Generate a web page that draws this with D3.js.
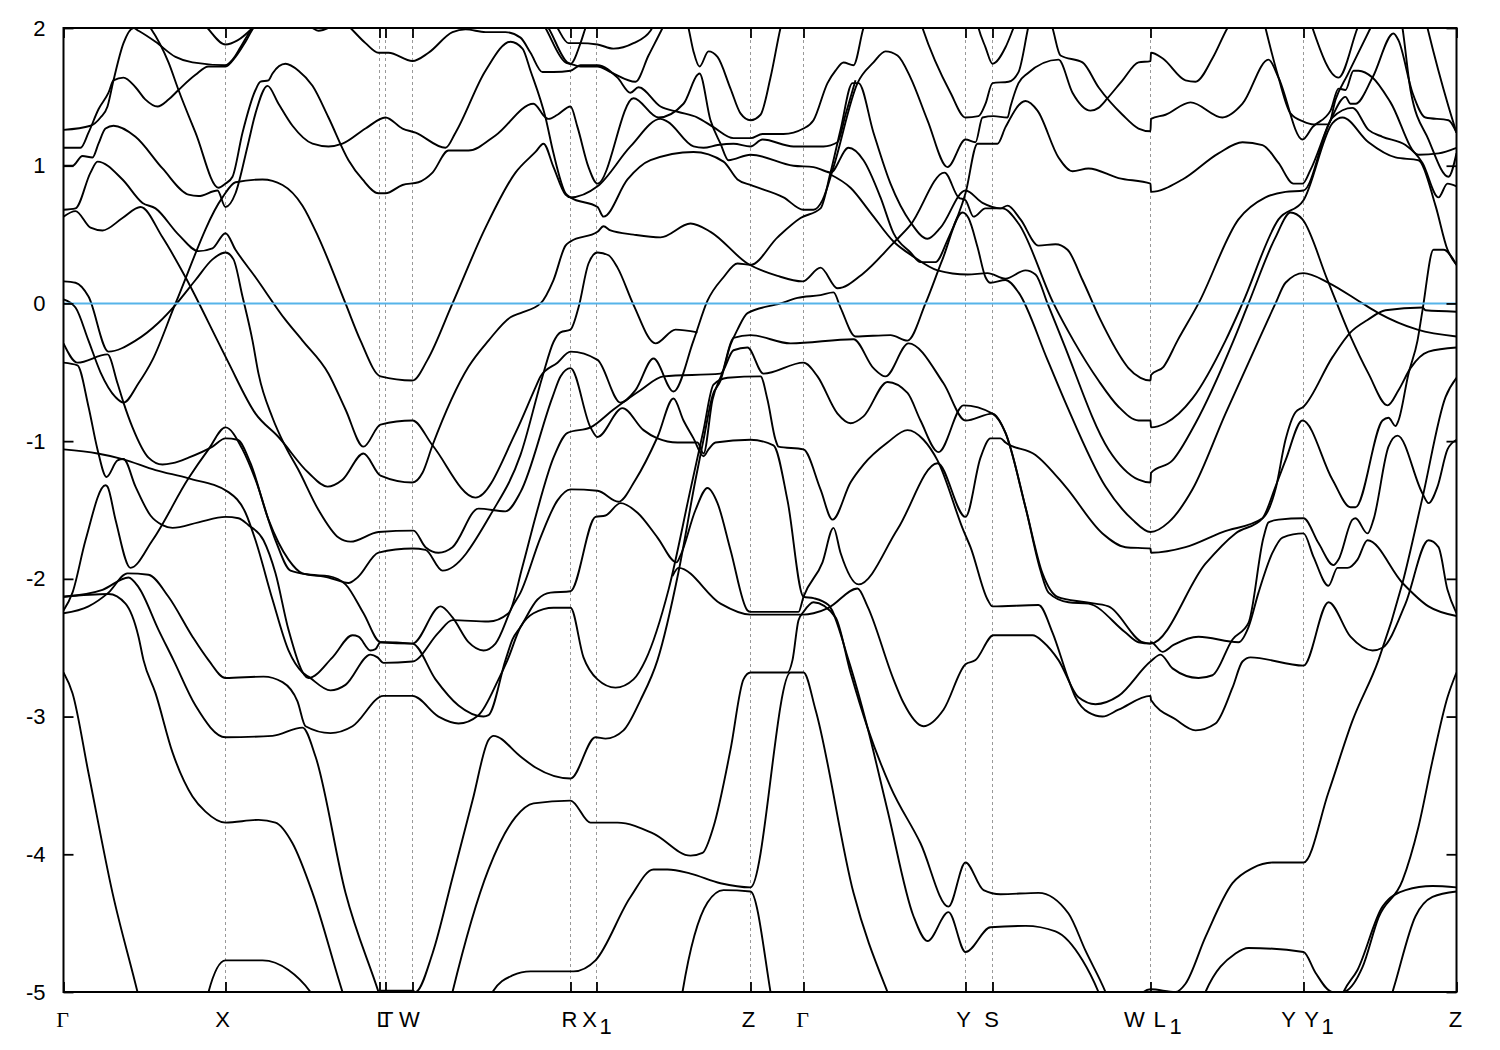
<!DOCTYPE html>
<html><head><meta charset="utf-8"><title>Band structure</title>
<script src="https://cdn.jsdelivr.net/npm/d3@7"></script>
<style>html,body{margin:0;padding:0;background:#fff}svg{display:block}
text{font-family:"Liberation Sans",Arial,sans-serif;font-size:22px;fill:#000}</style></head><body>
<script>
// high-symmetry points along the k-path (path coordinate)
const kTicks=[63,225,379,385,412,570,596,750,803,965,992,1150,1303,1456];
const kLabels=[["Γ",62],["X",222],["LT",381],["W",409],["R",569],["X",589,"1"],["Z",748],["Γ",802],["Y",963],["S",991],["W",1134],["L",1159,"1"],["Y",1288],["Y",1311,"1"],["Z",1455]];
const eTicks=[-5,-4,-3,-2,-1,0,1,2];
const kRange=[63,1456], eRange=[-5,2];
const band01=[[63,1.26],[90,1.29],[100,1.35],[107,1.43],[113,1.62],[123,1.89],[133,2],[138,1.98],[155,1.9],[175,1.79],[192,1.75],[225,1.73],[232,1.77],[240,1.86],[250,1.98],[258,2.04]];
const band02=[[63,1.13],[80,1.13],[88,1.24],[98,1.41],[108,1.53],[113,1.62],[123,1.64],[135,1.57],[145,1.48],[157,1.43],[168,1.48],[178,1.55],[195,1.66],[208,1.72],[225,1.72],[235,1.79],[245,1.9],[253,2],[262,2.06]];
const band03=[[140,2.09],[150,2],[168,1.75],[178,1.55],[195,1.24],[218,.84],[225,.87],[232,.92],[242,1.24],[255,1.55],[260,1.61],[268,1.62],[272,1.67],[285,1.74],[298,1.69],[312,1.58],[328,1.35],[348,1.04],[362,.9],[378,.8],[385,.8],[402,.86],[418,.88],[432,.95],[448,1.11],[468,1.11],[495,1.22],[533,1.45],[545,1.35],[548,1.34],[557,1.37],[570,1.43],[577,1.28],[588,.99],[597,.87],[633,1.49],[658,1.35],[683,1.45],[697,1.66],[699,1.67],[710,1.33],[720,1.16],[728,1.04],[750,1.08],[793,1],[813,.99],[825,.96],[830,.95],[848,1.13],[863,1.04],[880,.77],[893,.51],[910,.37],[920,.3],[935,.3],[947,.46],[965,.8],[977,1.16],[985,1.16],[997,1.16],[1005,1.28],[1025,1.47],[1037,1.4],[1058,1.06],[1072,.96],[1088,.98],[1118,.91],[1150,.87],[1150.5,.81],[1182,.9],[1218,1.09],[1242,1.17],[1262,1.15],[1278,1.02],[1293,.87],[1302,.87],[1310,.97],[1330,1.33],[1345,1.5],[1350,1.45],[1355,1.45],[1372,1.64],[1393,1.96],[1398,1.91],[1412,1.53],[1425,1.35],[1448,1.33],[1456,1.24]];
const band04=[[63,1],[72,1],[82,1.07],[92,1.06],[98,1.16],[105,1.27],[113,1.29],[135,1.21],[162,.98],[188,.79],[198,.78],[217,.82],[225,.7],[235,.8],[247,1.14],[255,1.38],[267,1.58],[278,1.45],[292,1.29],[312,1.16],[328,1.14],[342,1.16],[365,1.27],[385,1.35],[402,1.27],[415,1.24],[445,1.13],[455,1.24],[485,1.69],[510,1.9],[522,1.85],[530,1.69],[545,1.35],[553,1.09],[565,.8],[570,.77],[597,.7],[603,.63],[627,.9],[650,1.04],[693,1.1],[723,1.03],[737,.9],[750,.86],[783,.77],[803,.68],[813,.68],[822,.75],[833,.99],[857,1.6],[873,1.75],[885,1.83],[897,1.8],[910,1.64],[927,1.33],[947,.99],[965,1.19],[975,1.17],[982,1.35],[993,1.36],[1007,1.35],[1010,1.43],[1018,1.6],[1027,1.67],[1058,1.77],[1072,1.53],[1090,1.4],[1098,1.42],[1107,1.49],[1122,1.62],[1138,1.75],[1150,1.76],[1150.5,1.82],[1162,1.78],[1185,1.62],[1195,1.61],[1212,1.78],[1227,2],[1235,2.09]];
const band05=[[340,2.07],[350,2],[365,1.89],[378,1.82],[388,1.82],[412,1.76],[428,1.82],[452,1.97],[465,1.99],[485,1.97],[505,1.97],[520,1.93],[530,1.82],[542,1.68],[553,1.68],[570,1.69],[580,1.73],[597,1.73],[617,1.64],[630,1.53],[638,1.57],[660,1.43],[678,1.39],[697,1.35],[713,1.28],[733,1.2],[750,1.2],[762,1.23],[783,1.23],[803,1.27],[813,1.33],[827,1.6],[835,1.69],[843,1.75],[853,1.73],[863,2],[870,2.13]];
const band06=[[200,2.06],[207,2],[225,1.88],[237,1.91],[252,2],[260,2.06]];
const band07=[[305,2.03],[312,2],[318,1.98],[328,2],[335,2.03]];
const band08=[[540,2.09],[548,2],[567,1.75],[570,1.74],[580,1.89],[585,2],[590,2.09]];
const band09=[[538,2.09],[545,2],[565,1.75],[570,1.74],[580,1.72],[597,1.72],[610,1.68],[635,1.61],[648,1.8],[662,2],[668,2.09]];
const band10=[[550,2.09],[557,2],[568,1.89],[578,1.89],[597,1.88],[613,1.85],[633,1.89],[650,1.98],[655,2.06]];
const band11=[[685,2.09],[688,2],[693,1.83],[699,1.72],[708,1.83],[717,1.79],[730,1.56],[740,1.38],[750,1.33],[760,1.37],[770,1.64],[780,2],[783,2.09]];
const band12=[[1048,2.09],[1052,2],[1060,1.8],[1082,1.75],[1098,1.57],[1122,1.37],[1138,1.27],[1150,1.25],[1150.5,1.34],[1165,1.37],[1190,1.46],[1222,1.35],[1242,1.45],[1268,1.77],[1278,1.64],[1302,1.19],[1312,1.28],[1330,1.4],[1338,1.56],[1345,1.55],[1353,1.69],[1358,1.69],[1372,1.64],[1390,1.46],[1418,1.08],[1438,1.09],[1456,1.13]];
const band13=[[918,2.09],[922,2],[950,1.53],[965,1.35],[978,1.36],[985,1.45],[992,1.6],[1008,1.61],[1018,1.68],[1027,1.98],[1030,2.09]];
const band14=[[975,2.09],[978,2],[985,1.86],[992,1.74],[1005,1.86],[1013,2],[1018,2.09]];
const band15=[[1262,2.09],[1265,2],[1278,1.64],[1290,1.38],[1303,1.32],[1313,1.3],[1328,1.3],[1335,1.48],[1347,1.66],[1370,2],[1376,2.09]];
const band16=[[1308,2.09],[1312,2],[1338,1.64],[1357,2],[1362,2.09]];
const band17=[[1400,2.09],[1402,2],[1410,1.55],[1428,1.19],[1448,.92],[1456,1.09]];
const band18=[[1424,2.09],[1427,2],[1448,1.43],[1456,1.24]];
const band19=[[63,.68],[75,.69],[90,.95],[97,1.03],[122,.9],[142,.73],[155,.69],[178,.5],[198,.38],[212,.4],[225,.51],[235,.39],[255,.19],[285,-.12],[302,-.27],[328,-.51],[345,-.77],[363,-1.04],[380,-.88],[412,-.85],[432,-1.03],[475,-1.41],[515,-.94],[535,-.61],[540,-.53],[557,-.43],[570,-.35],[597,-.41],[620,-.72],[635,-.63],[653,-.4],[673,-.64],[693,-.27],[707,.02],[723,.19],[737,.29],[750,.28],[777,.48],[800,.62],[820,.69],[830,.95],[840,1.26],[852,1.6],[858,1.6],[873,1.24],[890,.87],[910,.59],[927,.47],[940,.55],[965,.82],[982,.73],[1000,.69],[1007,.71],[1020,.61],[1038,.42],[1055,.43],[1067,.39],[1082,.17],[1100,-.12],[1122,-.41],[1128,-.47],[1140,-.54],[1150,-.56],[1150.5,-.52],[1163,-.46],[1177,-.27],[1198,0],[1238,.61],[1265,.77],[1285,.81],[1303,.82],[1332,1.35],[1352,1.42],[1368,1.26],[1382,1.21],[1405,1.15],[1422,1.02],[1438,.77],[1447,.87],[1456,.85]];
const band20=[[63,.63],[75,.67],[90,.55],[102,.53],[122,.62],[140,.7],[162,.48],[185,.19],[217,-.27],[228,-.43],[255,-.8],[278,-.97],[308,-1.23],[327,-1.33],[342,-1.28],[363,-1.09],[380,-1.25],[412,-1.3],[422,-1.23],[432,-1.03],[468,-.46],[488,-.27],[510,-.1],[520,-.07],[540,0],[553,.17],[565,.42],[570,.45],[597,.52],[603,.56],[610,.53],[633,.5],[660,.48],[690,.58],[710,.52],[747,.29],[777,.2],[802,.16],[820,.26],[837,.11],[863,.22],[893,.44],[910,.57],[944,.95],[958,.77],[965,.75],[973,.63],[985,.69],[1002,.69],[1018,.58],[1053,0],[1073,-.27],[1098,-.56],[1118,-.75],[1138,-.85],[1150,-.85],[1150.5,-.9],[1165,-.87],[1192,-.69],[1225,-.27],[1242,0],[1278,.61],[1303,.75],[1332,1.31],[1342,1.35],[1368,1.17],[1395,1.06],[1418,1.04],[1435,.71],[1447,.39],[1456,.28]];
const band21=[[63,.03],[75,-.03],[88,-.27],[100,-.5],[115,-.68],[123,-.72],[138,-.58],[152,-.41],[175,0],[222,.77],[235,.88],[262,.9],[282,.86],[302,.71],[318,.48],[345,0],[360,-.27],[380,-.53],[412,-.56],[427,-.41],[452,0],[485,.55],[515,.95],[535,1.1],[543,1.16],[553,.99],[565,.79],[570,.77],[597,.85],[630,1.14],[660,1.34],[667,1.32],[693,1.14],[703,1.13],[717,1.15],[733,1.16],[750,1.14],[762,1.19],[793,1.14],[823,1.14],[837,1.17],[845,1.37],[855,1.62]];
const band22=[[829,.94],[850,.84],[870,.66],[893,.45],[913,.34],[937,.24],[967,.21],[987,.22],[1005,.18],[1025,.24],[1035,.21],[1047,0],[1062,-.27],[1108,-1.06],[1138,-1.28],[1150,-1.3],[1150.5,-1.23],[1172,-1.14],[1195,-.87],[1233,-.27],[1248,0],[1275,.48],[1290,.66],[1302,.61],[1327,.17],[1350,-.24],[1368,-.51],[1387,-.74],[1398,-.63],[1410,-.47],[1428,-.35],[1456,-.32]];
const band23=[[63,.16],[75,.15],[88,.05],[108,-.35],[135,-.27],[158,-.14],[175,-.01],[195,.17],[212,.32],[225,.37],[233,.32],[242,.05],[252,-.27],[258,-.51],[272,-.83],[285,-1.04],[298,-1.21],[318,-1.5],[338,-1.7],[350,-1.73],[378,-1.66],[413,-1.65],[425,-1.77],[438,-1.81],[452,-1.77],[478,-1.49],[505,-1.51],[520,-1.37],[552,-.68],[560,-.53],[570,-.47],[590,-.9],[597,-.97],[622,-.76],[643,-.92],[657,-.98],[677,-1.01],[697,-1.01],[703,-1.09],[712,-.7],[722,-.5],[733,-.25],[750,-.23],[790,-.29],[853,-.26],[873,-.47],[885,-.53],[908,-.29],[943,-.58],[965,-.85],[992,-.8],[1005,-.94],[1025,-1.48],[1040,-1.94],[1048,-2.1],[1068,-2.17],[1088,-2.18],[1125,-2.39],[1138,-2.46],[1150,-2.47],[1205,-1.89],[1235,-1.67],[1262,-1.56],[1275,-1.33],[1285,-1.14],[1302,-.85],[1332,-1.28],[1350,-1.48],[1355,-1.48],[1382,-.85],[1388,-.83],[1395,-.89],[1398,-.85],[1408,-.51],[1417,-.27],[1422,-.05],[1433,.39],[1443,.39],[1456,.28]];
const band24=[[63,-.29],[77,-.43],[107,-.37],[117,-.58],[123,-.72],[132,-.9],[148,-1.12],[162,-1.17],[172,-1.16],[188,-1.12],[212,-1.04],[225,-.98],[237,-.99],[250,-1.16],[268,-1.57],[288,-1.86],[302,-1.96],[328,-1.99],[348,-2.03],[357,-1.99],[378,-1.81],[412,-1.78],[425,-1.79],[442,-1.94],[492,-1.51],[520,-1.1],[542,-.53],[553,-.28],[560,-.21],[570,-.19],[578,-.03],[588,.29],[597,.37],[608,.35],[617,.26],[633,-.01],[655,-.29],[675,-.19],[697,-.21]];
const band25=[[63,-.43],[77,-.45],[88,-.75],[97,-1.06],[106,-1.26],[117,-1.14],[123,-1.13],[135,-1.33],[150,-1.54],[162,-1.61],[172,-1.63],[198,-1.59],[225,-1.55],[238,-1.56],[248,-1.61],[263,-1.72],[275,-1.96],[288,-2.37],[308,-2.72],[332,-2.57],[352,-2.41],[358,-2.42],[370,-2.52],[375,-2.51],[380,-2.46],[412,-2.47],[435,-2.73],[458,-2.92],[483,-3],[488,-2.99],[505,-2.59],[512,-2.44],[520,-2.35],[537,-2.15],[550,-2.1],[570,-2.09],[595,-1.55],[605,-1.54],[620,-1.45],[637,-1.52],[657,-1.7],[676,-1.88],[680,-1.83],[695,-1.5],[707,-1.34],[717,-1.45],[730,-1.79],[747,-2.23],[750,-2.24],[798,-2.24],[803,-2.13],[822,-1.88],[833,-1.63],[840,-1.81],[858,-2.04],[897,-1.64],[937,-1.16],[965,-1.55],[980,-1.12],[990,-.98],[1000,-.98],[1005,-1.01],[1035,-1.1],[1065,-1.33],[1102,-1.67],[1125,-1.77],[1150,-1.78],[1150.5,-1.81],[1185,-1.77],[1222,-1.66],[1262,-1.56],[1275,-1.35],[1285,-.99],[1295,-.79],[1303,-.75],[1332,-.39],[1350,-.21],[1367,-.12],[1385,-.05],[1422,-.03],[1425,-.05],[1456,-.06]];
const band26=[[63,-1.06],[97,-1.09],[122,-1.13],[155,-1.21],[188,-1.27],[228,-1.37],[245,-1.52],[255,-1.72],[272,-2.15],[288,-2.52],[302,-2.68],[308,-2.71],[330,-2.81],[345,-2.77],[370,-2.55],[377,-2.57],[383,-2.61],[412,-2.6],[438,-2.39],[452,-2.3],[488,-2.31],[508,-2.25],[522,-1.91],[535,-1.55],[553,-1.12],[567,-.94],[590,-.9],[613,-.77],[640,-.63],[663,-.53],[720,-.51],[733,-.34],[747,-.32],[763,-.51],[803,-.43],[817,-.53],[837,-.8],[850,-.87],[863,-.82],[887,-.57],[907,-.65],[920,-.85],[938,-1.08],[963,-.74],[992,-.8],[1005,-.94],[1025,-1.48],[1042,-1.96],[1057,-2.13],[1085,-2.17],[1108,-2.2],[1142,-2.46],[1150,-2.47],[1150.5,-2.46],[1162,-2.53],[1173,-2.48],[1198,-2.42],[1238,-2.46],[1248,-2.35],[1258,-2.1],[1272,-1.81],[1282,-1.7],[1303,-1.67],[1313,-1.84],[1328,-2.05],[1337,-1.92],[1347,-1.92],[1357,-1.86],[1367,-1.72],[1402,-2.03],[1428,-2.2],[1456,-2.27]];
const band27=[[63,-2.23],[72,-2.1],[85,-1.72],[105,-1.32],[107,-1.33],[115,-1.57],[130,-1.92],[152,-1.72],[188,-1.27],[208,-1.06],[225,-.9],[242,-1.06],[255,-1.28],[275,-1.72],[290,-1.94],[310,-1.97],[328,-1.98],[345,-2.04],[363,-2.25],[380,-2.46],[412,-2.47],[440,-2.2],[452,-2.28],[468,-2.46],[483,-2.52],[495,-2.47],[512,-2.2],[520,-2.1],[540,-1.7],[557,-1.43],[570,-1.35],[597,-1.36],[618,-1.44],[635,-1.28],[657,-.97],[673,-.69],[683,-.85],[693,-.98],[703,-1.11],[708,-1.06],[715,-1.01],[750,-.99],[773,-1.03],[787,-1.43],[803,-2.13],[813,-2.14],[828,-2.19],[848,-2.59],[867,-3.08],[887,-3.68],[913,-4.45],[927,-4.63],[948,-4.42],[965,-4.71],[990,-4.53],[1025,-4.52],[1055,-4.56],[1082,-4.77],[1098,-5],[1103,-5.09]];
const band28=[[63,-2.25],[88,-2.2],[108,-2.1],[127,-1.96],[148,-1.97],[168,-2.13],[192,-2.42],[208,-2.59],[225,-2.72],[263,-2.71],[282,-2.75],[297,-2.89],[305,-3.07],[330,-3.12],[352,-3.07],[383,-2.85],[412,-2.85],[438,-3],[458,-3.05],[478,-2.99],[498,-2.73],[507,-2.59],[520,-2.35],[533,-2.25],[553,-2.21],[570,-2.21],[583,-2.57],[597,-2.73],[615,-2.79],[633,-2.73],[645,-2.59],[668,-2.08],[690,-1.35],[703,-.92],[713,-.59],[727,-.54],[760,-.53],[767,-.7],[775,-.99],[778,-1.04],[803,-1.06],[820,-1.35],[832,-1.57],[850,-1.3],[863,-1.17],[887,-1.01],[907,-.92],[923,-.99],[937,-1.14],[963,-1.65],[970,-1.77],[987,-2.15],[992,-2.2],[1038,-2.19],[1052,-2.39],[1068,-2.73],[1075,-2.86],[1088,-2.97],[1102,-3],[1118,-2.95],[1150,-2.85],[1150.5,-2.88],[1175,-3.02],[1195,-3.1],[1215,-3.05],[1232,-2.79],[1242,-2.6],[1250,-2.57],[1303,-2.63],[1328,-2.17],[1350,-2.42],[1372,-2.52],[1382,-2.5],[1405,-2.18],[1428,-1.72],[1438,-1.77],[1447,-2.08],[1456,-2.25]];
const band29=[[63,-2.13],[102,-2.08],[128,-1.99],[138,-2.06],[158,-2.37],[173,-2.59],[195,-2.92],[225,-3.15],[272,-3.14],[302,-3.08],[315,-3.29],[345,-4.28],[378,-5],[382,-5.09]];
const band30=[[63,-2.13],[108,-2.11],[125,-2.18],[138,-2.42],[143,-2.59],[155,-2.83],[172,-3.26],[192,-3.58],[205,-3.69],[225,-3.77],[258,-3.75],[275,-3.77],[292,-3.92],[312,-4.28],[342,-5],[346,-5.09]];
const band31=[[63,-2.68],[72,-2.83],[88,-3.41],[112,-4.28],[137,-5],[140,-5.09]];
const band32=[[205,-5.09],[208,-5],[225,-4.77],[262,-4.77],[288,-4.84],[310,-5],[318,-5.09]];
const band33=[[380,-4.99],[412,-4.99],[415,-5],[432,-4.72],[452,-4.17],[472,-3.61],[488,-3.17],[493,-3.14],[520,-3.29],[535,-3.37],[570,-3.45],[595,-3.15],[605,-3.16],[623,-3.1],[640,-2.88],[657,-2.59],[678,-1.95],[695,-1.28],[703,-.99],[712,-.67],[720,-.56],[730,-.3],[737,-.19],[747,-.07],[780,0],[797,.04],[820,.06],[833,.08],[840,-.03],[855,-.24],[890,-.23],[907,-.27],[925,0],[942,.32],[962,.66],[968,.62],[977,.41],[985,.19],[990,.15],[1005,.17],[1018,.08],[1047,-.41],[1065,-.72],[1105,-1.33],[1132,-1.57],[1150,-1.66],[1168,-1.59],[1192,-1.35],[1225,-.8],[1258,-.27],[1275,0],[1285,.15],[1303,.22],[1328,.15],[1362,0],[1378,-.07],[1417,-.19],[1456,-.24]];
const band34=[[449,-5.09],[452,-5],[488,-4.11],[515,-3.73],[533,-3.63],[570,-3.61],[590,-3.77],[617,-3.77],[653,-3.85],[690,-4.01],[702,-3.99],[713,-3.8],[730,-3.24],[743,-2.73],[750,-2.68],[787,-2.68],[792,-2.59],[798,-2.3],[803,-2.24],[813,-2.17],[835,-2.28],[850,-2.68],[867,-3.08],[890,-3.51],[920,-3.92],[948,-4.38],[965,-4.06],[983,-4.26],[1000,-4.29],[1038,-4.28],[1068,-4.43],[1085,-4.7],[1105,-5],[1110,-5.09]];
const band35=[[488,-5.09],[492,-5],[512,-4.88],[530,-4.85],[573,-4.85],[595,-4.77],[630,-4.31],[653,-4.11],[667,-4.11],[690,-4.14],[720,-4.21],[750,-4.24],[790,-2.68],[803,-2.68],[815,-2.95],[853,-4.28],[887,-5],[892,-5.09]];
const band36=[[680,-5.09],[682,-5],[707,-4.35],[723,-4.26],[750,-4.27],[770,-5],[772,-5.09]];
const band37=[[672,-1.98],[678,-1.92],[720,-2.18],[750,-2.26],[803,-2.26],[813,-2.25],[828,-2.21],[857,-2.07],[867,-2.2],[893,-2.73],[903,-2.9],[923,-3.07],[943,-2.95],[965,-2.62],[975,-2.59],[993,-2.41],[1032,-2.41],[1043,-2.46],[1058,-2.59],[1078,-2.86],[1095,-2.91],[1118,-2.85],[1150,-2.6],[1160,-2.55],[1172,-2.65],[1198,-2.72],[1212,-2.7],[1232,-2.44],[1248,-2.32],[1263,-1.7],[1268,-1.59],[1278,-1.57],[1303,-1.56],[1318,-1.74],[1333,-1.9],[1338,-1.86],[1352,-1.57],[1355,-1.56],[1367,-1.67],[1373,-1.57],[1388,-1.04],[1397,-.96],[1422,-1.38],[1428,-1.45],[1437,-1.33],[1447,-1.06],[1456,-.99]];
const band38=[[1138,-5.09],[1143,-5],[1150,-4.98],[1175,-5],[1185,-4.94],[1205,-4.6],[1232,-4.21],[1252,-4.1],[1272,-4.06],[1303,-4.06],[1328,-3.55],[1352,-3.03],[1378,-2.59],[1402,-2.03],[1422,-1.41],[1445,-.68],[1456,-.54]];
const band39=[[1200,-5.09],[1205,-5],[1235,-4.72],[1248,-4.68],[1303,-4.71],[1315,-4.86],[1332,-5],[1342,-5],[1362,-4.82],[1378,-4.46],[1402,-4.19],[1418,-3.8],[1432,-3.32],[1447,-2.86],[1456,-2.68]];
const band40=[[1338,-5.09],[1343,-5],[1357,-4.84],[1382,-4.38],[1405,-4.26],[1432,-4.23],[1456,-4.24]];
const band41=[[1388,-5.09],[1392,-5],[1415,-4.45],[1432,-4.31],[1456,-4.27]];
const bands=[band01,band02,band03,band04,band05,band06,band07,band08,band09,band10,band11,band12,band13,band14,band15,band16,band17,band18,band19,band20,band21,band22,band23,band24,band25,band26,band27,band28,band29,band30,band31,band32,band33,band34,band35,band36,band37,band38,band39,band40,band41];

const W=1500,H=1050,m={l:63.5,r:1456.5,t:28,b:992};
const x=d3.scaleLinear().domain(kRange).range([m.l,m.r]);
const y=d3.scaleLinear().domain(eRange).range([m.b,m.t]);
const svg=d3.select("body").append("svg").attr("width",W).attr("height",H);
svg.append("defs").append("clipPath").attr("id","plot").append("rect")
  .attr("x",m.l).attr("y",m.t).attr("width",m.r-m.l).attr("height",m.b-m.t);

// dashed verticals at high-symmetry points
svg.append("g").selectAll("line").data(kTicks.slice(1,-1)).join("line")
  .attr("x1",d=>x(d)).attr("x2",d=>x(d)).attr("y1",m.t).attr("y2",m.b)
  .attr("stroke","#999").attr("stroke-width",1).attr("stroke-dasharray","3,3");

// bands
const line=d3.line().x(d=>x(d[0])).y(d=>y(d[1])).curve(d3.curveMonotoneX);
svg.append("g").attr("clip-path","url(#plot)").selectAll("path").data(bands).join("path")
  .attr("d",line).attr("fill","none").attr("stroke","#000").attr("stroke-width",1.9).attr("stroke-linejoin","round");

// Fermi level
svg.append("line").attr("x1",x(kRange[0])).attr("x2",x(kRange[1])).attr("y1",y(0)).attr("y2",y(0))
  .attr("stroke","#56b4e9").attr("stroke-width",2);

// axes
const ax=(g,fn)=>{g.call(fn);g.select(".domain").remove();g.selectAll("line").attr("stroke","#000").attr("stroke-width",1.8);};
svg.append("g").attr("transform",`translate(${m.l},0)`).call(g=>ax(g,d3.axisLeft(y).tickValues(eTicks).tickSizeInner(-10).tickSizeOuter(0).tickPadding(17).tickFormat(d=>String(d))))
  .selectAll("text").style("font-size","22px").style("font-family","'Liberation Sans'").attr("dx",-1);
svg.append("g").attr("transform",`translate(${m.r},0)`).call(g=>ax(g,d3.axisRight(y).tickValues(eTicks).tickSizeInner(-10).tickSizeOuter(0).tickFormat("")));
svg.append("g").attr("transform",`translate(0,${m.b})`).call(g=>ax(g,d3.axisBottom(x).tickValues(kTicks).tickSizeInner(-10).tickSizeOuter(0).tickFormat("")));
svg.append("g").attr("transform",`translate(0,${m.t})`).call(g=>ax(g,d3.axisTop(x).tickValues(kTicks).tickSizeInner(-10).tickSizeOuter(0).tickFormat("")));
svg.append("rect").attr("x",m.l).attr("y",m.t).attr("width",m.r-m.l).attr("height",m.b-m.t)
  .attr("fill","none").attr("stroke","#000").attr("stroke-width",2);

// k-point labels
const lab=svg.append("g").selectAll("g").data(kLabels).join("g");
lab.append("text").attr("x",d=>x(d[1])).attr("y",1027).attr("text-anchor","middle")
  .attr("letter-spacing",d=>d[0]==="LT"?"-7px":null)
  .style("font-family",d=>d[0]==="Γ"?"'Liberation Serif'":"'Liberation Sans'").text(d=>d[0]);
lab.filter(d=>d[2]).append("text").attr("x",d=>x(d[1])+16).attr("y",1034).attr("text-anchor","middle").text(d=>d[2]);
</script></body></html>
